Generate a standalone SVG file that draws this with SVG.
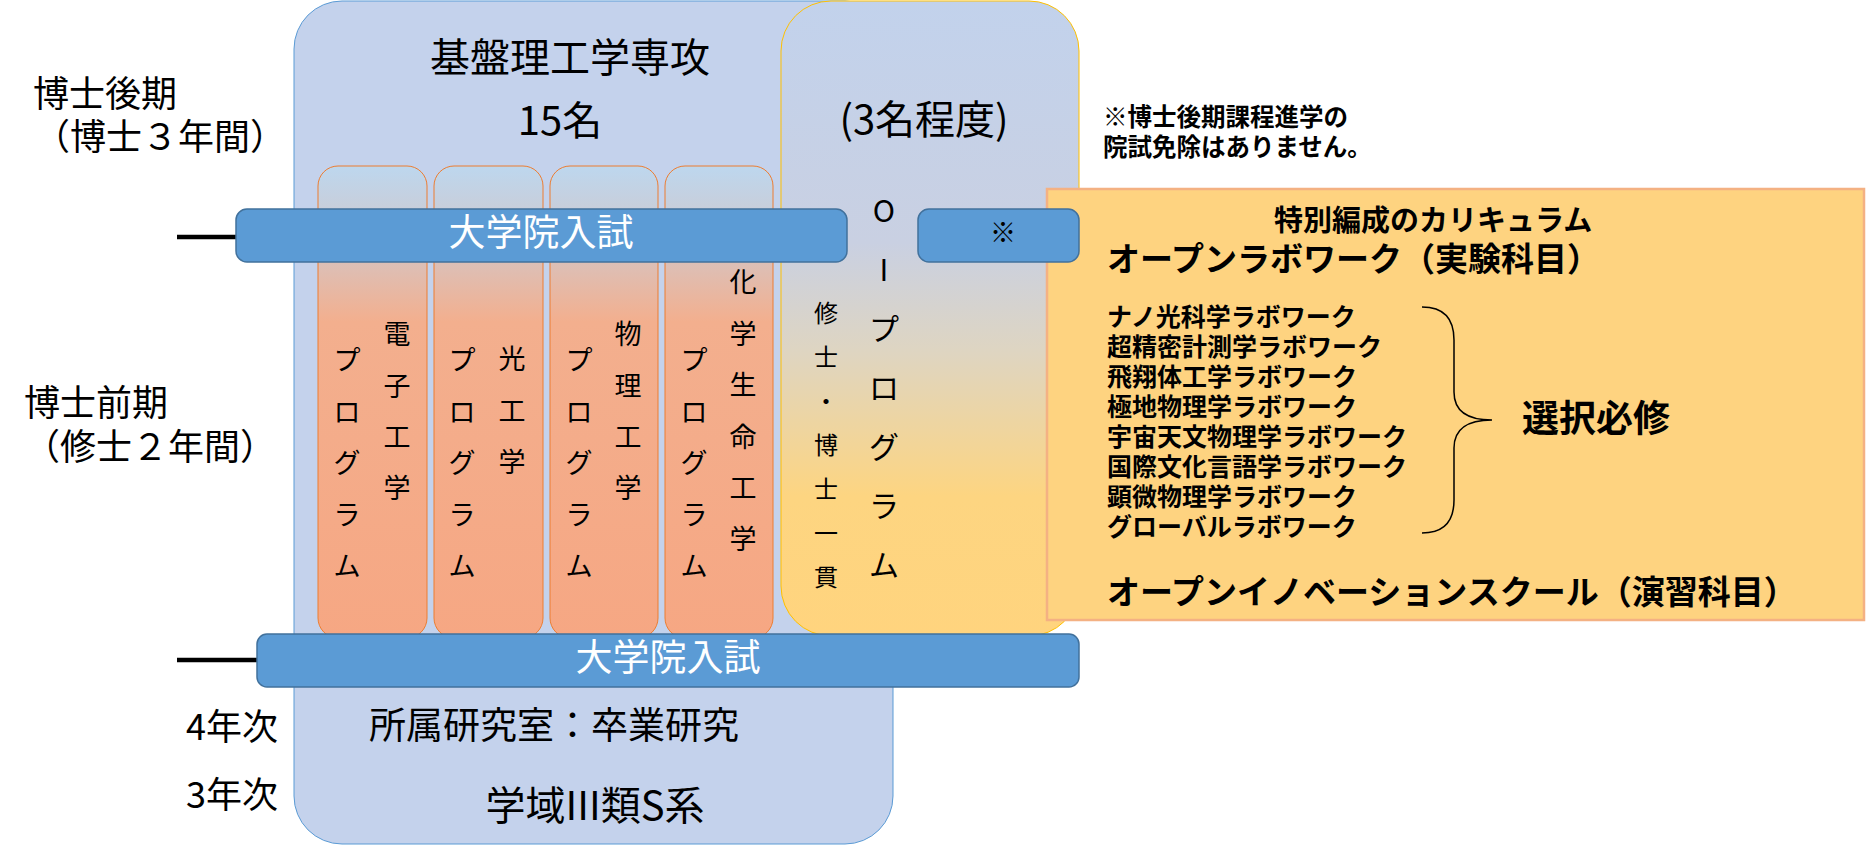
<svg xmlns="http://www.w3.org/2000/svg" width="1866" height="859" viewBox="0 0 1866 859">
<style>
text{font-family:"Noto Sans CJK JP","Noto Sans",sans-serif;fill:#000}
.b{font-weight:bold}
.bar{fill:#5B9BD5;stroke:#41719C;stroke-width:1.5}
.col{fill:url(#gCol);stroke:#ED7D31;stroke-width:1}
.vt{font-size:27px;text-anchor:middle}
.wt{fill:#fff;font-size:37px;text-anchor:middle}
.lab{font-size:36px}
.nt{font-size:24.5px;font-weight:bold}
.li{font-size:25px;font-weight:bold}
</style>
<defs>
<linearGradient id="gCol" x1="0" y1="0" x2="0" y2="1">
<stop offset="0" stop-color="#BDD7EE"/>
<stop offset="0.1" stop-color="#C9CDD9"/>
<stop offset="0.33" stop-color="#F3AF8E"/>
<stop offset="1" stop-color="#F6A783"/>
</linearGradient>
<linearGradient id="gOI" x1="0" y1="0" x2="0" y2="1">
<stop offset="0" stop-color="#C2D2EC"/>
<stop offset="0.38" stop-color="#C9D0E2"/>
<stop offset="0.55" stop-color="#DED5C2"/>
<stop offset="0.78" stop-color="#FDD581"/>
<stop offset="1" stop-color="#FFD47E"/>
</linearGradient>
</defs>

<g id="ticks">
<line x1="177" y1="237" x2="240" y2="237" stroke="#000" stroke-width="4.5"/>
<line x1="177" y1="660" x2="260" y2="660" stroke="#000" stroke-width="4.5"/>
</g>

<g id="labels">
<text class="lab" x="33" y="107">博士後期</text>
<text class="lab" x="34" y="150">（博士３年間）</text>
<text class="lab" x="24" y="416">博士前期</text>
<text class="lab" x="24" y="460">（修士２年間）</text>
<text class="lab" x="186" y="740">4年次</text>
<text class="lab" x="186" y="808">3年次</text>
</g>

<g id="main">
<rect x="294" y="1" width="599" height="843" rx="48" fill="#C4D2EC" stroke="#5B9BD5" stroke-width="1"/>
<text x="570" y="72" font-size="40" text-anchor="middle">基盤理工学専攻</text>
<text x="560" y="135" font-size="40" text-anchor="middle">15名</text>
<text x="369" y="739" font-size="37">所属研究室：卒業研究</text>
<text x="595" y="820" font-size="40" text-anchor="middle">学域III類S系</text>
</g>

<g id="prog-denshi">
<rect class="col" x="318" y="166" width="109" height="472" rx="20"/>
<text class="vt" x="397 397 397 397" y="344 396 447 498">電子工学</text>
<text class="vt" x="347 347 347 347 347" y="370 422 473 525 576">プログラム</text>
</g>
<g id="prog-hikari">
<rect class="col" x="434" y="166" width="109" height="472" rx="20"/>
<text class="vt" x="512 512 512" y="369 421 472">光工学</text>
<text class="vt" x="462 462 462 462 462" y="370 422 473 525 576">プログラム</text>
</g>
<g id="prog-butsuri">
<rect class="col" x="550" y="166" width="108" height="472" rx="20"/>
<text class="vt" x="628 628 628 628" y="344 396 447 498">物理工学</text>
<text class="vt" x="579 579 579 579 579" y="370 422 473 525 576">プログラム</text>
</g>
<g id="prog-kagaku">
<rect class="col" x="665" y="166" width="108" height="472" rx="20"/>
<text class="vt" x="743 743 743 743 743 743" y="292 344 395 447 498 549">化学生命工学</text>
<text class="vt" x="694 694 694 694 694" y="370 422 473 525 576">プログラム</text>
</g>

<g id="oi">
<rect x="781" y="1" width="298" height="635" rx="50" fill="url(#gOI)" stroke="#FFC000" stroke-width="1"/>
<text x="924" y="134" font-size="40" text-anchor="middle">(3名程度)</text>
<text font-size="30" text-anchor="middle" x="884 884 884 884 884 884 884" y="222 281 340 399 458 517 576">OIプログラム</text>
<text font-size="24" text-anchor="middle" x="826 826 826 826 826 826 826" y="322 366 410 454 498 542 586">修士・博士一貫</text>
</g>

<g id="note">
<text class="nt" x="1103" y="126">※博士後期課程進学の</text>
<text class="nt" x="1103" y="156">院試免除はありません。</text>
</g>

<g id="curriculum">
<rect x="1047" y="189" width="817" height="431" fill="#FED380" stroke="#F4B183" stroke-width="2.5"/>
<text class="b" x="1274" y="231" font-size="29">特別編成のカリキュラム</text>
<text class="b" x="1107" y="271" font-size="33">オープンラボワーク（実験科目）</text>
<text class="li" x="1107" y="326">ナノ光科学ラボワーク</text>
<text class="li" x="1107" y="356">超精密計測学ラボワーク</text>
<text class="li" x="1107" y="386">飛翔体工学ラボワーク</text>
<text class="li" x="1107" y="416">極地物理学ラボワーク</text>
<text class="li" x="1107" y="446">宇宙天文物理学ラボワーク</text>
<text class="li" x="1107" y="476">国際文化言語学ラボワーク</text>
<text class="li" x="1107" y="506">顕微物理学ラボワーク</text>
<text class="li" x="1107" y="536">グローバルラボワーク</text>
<path d="M1422,307 C1445,307 1454,320 1454,340 L1454,392 C1454,410 1465,420 1492,420 C1465,420 1454,430 1454,448 L1454,500 C1454,520 1445,533 1422,533" fill="none" stroke="#000" stroke-width="1.5"/>
<text class="b" x="1522" y="432" font-size="37">選択必修</text>
<text class="b" x="1107" y="604" font-size="33">オープンイノベーションスクール（演習科目）</text>
</g>

<g id="exam-upper">
<rect class="bar" x="236" y="209" width="611" height="53" rx="11"/>
<text class="wt" x="541" y="246">大学院入試</text>
</g>
<g id="exam-note">
<rect class="bar" x="918" y="209" width="161" height="53" rx="11"/>
<text x="1003" y="242" font-size="26" text-anchor="middle">※</text>
</g>
<g id="exam-lower">
<rect class="bar" x="257" y="634" width="822" height="53" rx="10"/>
<text class="wt" x="668" y="671">大学院入試</text>
</g>
</svg>
